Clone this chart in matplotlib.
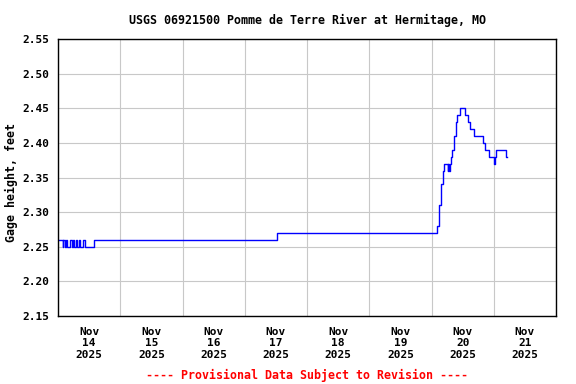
import pandas as pd
import matplotlib
matplotlib.use("Agg")
import matplotlib.pyplot as plt
import matplotlib.dates as mdates

# hours after Nov 14 2025 00:00 where the gage reading changes, and the new reading
change_hours = [0.0, 1.75, 2.0, 2.75, 3.0, 3.5, 4.5, 5.25, 5.75, 6.25, 7.0, 7.5,
                8.0, 8.5, 9.75, 10.5, 14.0, 84.5, 146.25, 147.0, 147.5, 147.75,
                148.25, 148.5, 149.0, 150.25, 150.5, 150.75, 151.0, 151.5, 152.0,
                152.5, 152.75, 153.25, 153.5, 154.0, 155.0, 157.0, 158.25, 159.0,
                160.25, 164.0, 164.5, 166.0, 168.25, 168.5, 169.0, 172.75, 173.0]
gage_ft = [2.26, 2.25, 2.26, 2.25, 2.26, 2.25, 2.26, 2.25, 2.26, 2.25, 2.26, 2.25,
           2.26, 2.25, 2.26, 2.25, 2.26, 2.27, 2.28, 2.31, 2.33, 2.34,
           2.35, 2.36, 2.37, 2.36, 2.37, 2.36, 2.37, 2.38, 2.39,
           2.40, 2.41, 2.42, 2.43, 2.44, 2.45, 2.44, 2.43, 2.42,
           2.41, 2.40, 2.39, 2.38, 2.37, 2.38, 2.39, 2.38, 2.38]

start = pd.Timestamp("2025-11-14")
end = pd.Timestamp("2025-11-22")
times = start + pd.to_timedelta(change_hours, unit="h")

font = {"family": "DejaVu Sans Mono", "weight": "bold", "size": 8}
title_font = {"family": "DejaVu Sans Mono", "weight": "bold", "size": 8.4}

fig = plt.figure(figsize=(5.76, 3.84), dpi=100)
ax = fig.add_axes([0.1007, 0.177, 0.8646, 0.7214])

ax.plot(times, gage_ft, color="#0000ff", linewidth=1.0, drawstyle="steps-post")

ax.set_xlim(start, end)
ax.set_ylim(2.15, 2.55)
ax.set_yticks([2.15 + 0.05 * i for i in range(9)])
ax.set_yticklabels([f"{2.15 + 0.05 * i:.2f}" for i in range(9)], fontdict=font)

# gridlines at midnight, labels at noon
ax.xaxis.set_major_locator(mdates.DayLocator())
ax.xaxis.set_major_formatter(plt.NullFormatter())
ax.xaxis.set_minor_locator(mdates.HourLocator(byhour=[12]))
ax.xaxis.set_minor_formatter(mdates.DateFormatter("%b\n%d\n%Y"))
for lbl in ax.xaxis.get_minorticklabels():
    lbl.set_fontfamily("DejaVu Sans Mono")
    lbl.set_fontweight("bold")
    lbl.set_fontsize(8)
    lbl.set_linespacing(1.15)

ax.tick_params(axis="both", which="both", length=0)
ax.tick_params(axis="x", which="minor", pad=8)
ax.tick_params(axis="y", pad=6)
ax.grid(True, which="major", color="#c8c8c8", linewidth=0.8)
for s in ax.spines.values():
    s.set_linewidth(1.0)

ax.set_ylabel("Gage height, feet", fontdict=title_font)
ax.yaxis.set_label_coords(-0.08, 0.482)
fig.text(0.533, 0.948, "USGS 06921500 Pomme de Terre River at Hermitage, MO",
         ha="center", va="center", **title_font)
fig.text(0.533, 0.022, "---- Provisional Data Subject to Revision ----",
         ha="center", va="center", color="red", **title_font)

fig.savefig("out.png", dpi=100)
